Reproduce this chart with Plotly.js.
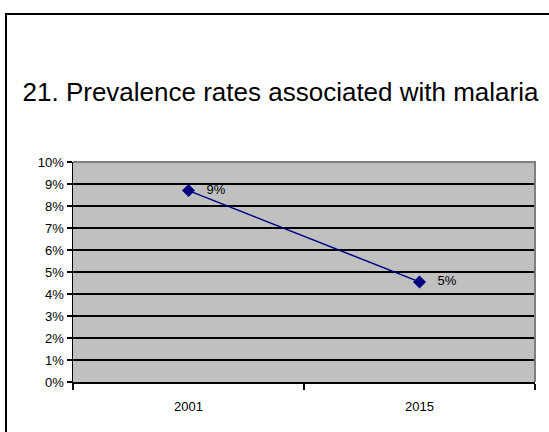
<!DOCTYPE html>
<html>
<head>
<meta charset="utf-8">
<script src="https://cdn.plot.ly/plotly-3.0.1.min.js"></script>
<style>
  html, body { margin: 0; padding: 0; background: #ffffff; }
  #chart { width: 549px; height: 432px; }
</style>
</head>
<body>
<div id="chart"></div>
<script>
// Malaria prevalence, two survey years
const years = ['2001', '2015'];
const prevalence = [0.087, 0.0455];
const yTicks = [0, 0.01, 0.02, 0.03, 0.04, 0.05, 0.06, 0.07, 0.08, 0.09, 0.10];
const chartTitle = '21. Prevalence rates associated with malaria';

const W = 549, H = 432;
const margin = { l: 73, r: 14, t: 162, b: 50 };
const plotW = W - margin.l - margin.r;
const plotH = H - margin.t - margin.b;
// pixel -> paper helpers for the surrounding frame
const px = x => (x - margin.l) / plotW;
const py = y => (H - margin.b - y) / plotH;

const FONT = 'Liberation Sans, Arial, sans-serif';

const trace = {
  x: years,
  y: prevalence,
  type: 'scatter',
  mode: 'lines+markers+text',
  line: { color: '#000080', width: 1.5 },
  marker: { symbol: 'diamond', size: 10, color: '#000080' },
  texttemplate: '   %{y:.0%}',
  textposition: 'middle right',
  textfont: { family: FONT, size: 13, color: '#000000' },
  cliponaxis: false,
  hoverinfo: 'skip'
};

const layout = {
  width: W,
  height: H,
  margin: margin,
  paper_bgcolor: '#ffffff',
  plot_bgcolor: '#c0c0c0',
  showlegend: false,
  font: { family: FONT, size: 13, color: '#000000' },
  title: {
    text: chartTitle,
    font: { family: FONT, size: 26, color: '#000000' },
    xref: 'container', x: 280.5 / W, xanchor: 'center',
    yref: 'container', y: 1 - 92 / H, yanchor: 'middle'
  },
  xaxis: {
    type: 'category',
    range: [-0.5, 1.5],
    tickson: 'boundaries',
    ticks: 'outside',
    ticklen: 6,
    tickwidth: 1.5,
    tickcolor: '#000000',
    ticklabelstandoff: 12,
    showgrid: false,
    showline: true,
    linecolor: '#000000',
    linewidth: 1.5,
    zeroline: false,
    fixedrange: true,
    tickfont: { size: 13 }
  },
  yaxis: {
    range: [0, 0.10],
    tickvals: yTicks,
    tickformat: '.0%',
    ticks: 'outside',
    ticklen: 5,
    tickwidth: 1.5,
    tickcolor: '#000000',
    showgrid: true,
    gridcolor: '#000000',
    gridwidth: 1.5,
    showline: true,
    linecolor: '#000000',
    linewidth: 1.5,
    zeroline: false,
    fixedrange: true,
    tickfont: { size: 13 }
  },
  shapes: [
    // grey border on top and right of the plot area
    {
      type: 'path', xref: 'paper', yref: 'paper',
      path: 'M 0,1 L 1,1 L 1,0',
      line: { color: '#808080', width: 2 }
    },
    // outer frame, open towards the right and bottom
    {
      type: 'path', xref: 'paper', yref: 'paper',
      path: `M ${px(6)},${py(440)} L ${px(6)},${py(14)} L ${px(560)},${py(14)}`,
      line: { color: '#000000', width: 2 }
    }
  ]
};

Plotly.newPlot('chart', [trace], layout, { displayModeBar: false, staticPlot: true });
</script>
</body>
</html>
